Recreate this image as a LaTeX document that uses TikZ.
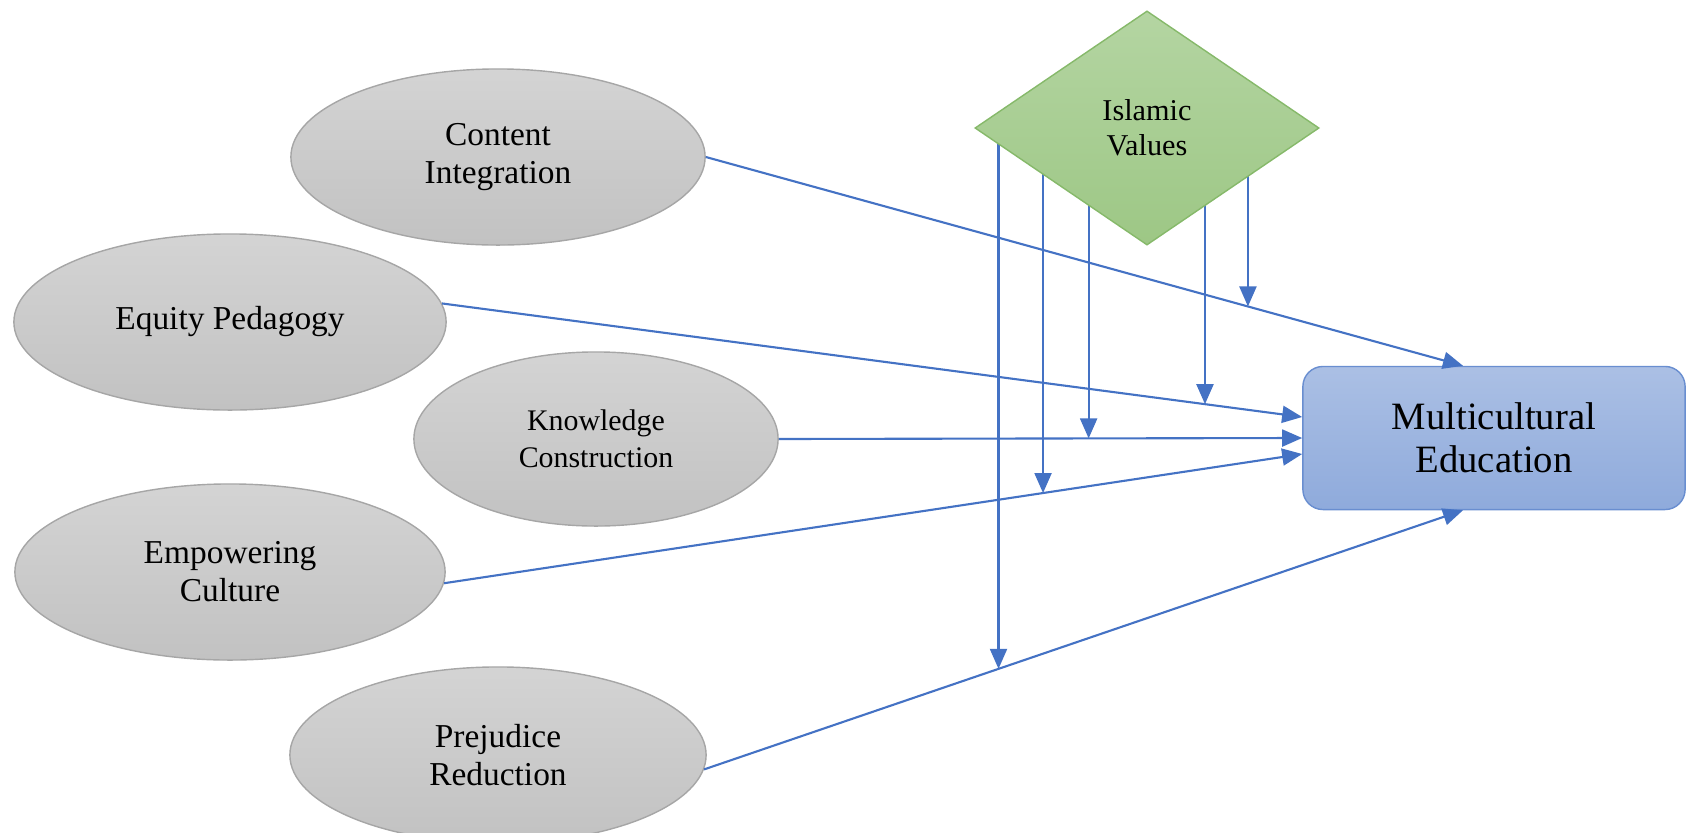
\documentclass[tikz,border=0pt]{standalone}
\usepackage{fontspec}
\setmainfont{Liberation Serif}
\usetikzlibrary{shapes.geometric,arrows.meta,calc}
\pgfdeclarelayer{background}
\pgfsetlayers{background,main}

\definecolor{linkblue}{HTML}{4472C4}
\definecolor{greentop}{HTML}{B4D5A2}
\definecolor{greenbot}{HTML}{9DC785}
\definecolor{greenline}{HTML}{86B96A}

\tikzset{
  factor/.style={ellipse, draw=black!35, top color=black!17, bottom color=black!24,
    inner sep=0pt, align=center, font=\fontsize{9.5}{10.8}\selectfont},
  moderator/.style={diamond, draw=greenline, top color=greentop, bottom color=greenbot,
    inner sep=0pt, aspect=1.47, minimum width=3.44cm, minimum height=2.34cm,
    align=center, font=\fontsize{8.6}{10}\selectfont},
  outcome/.style={rectangle, rounded corners=0.2cm, draw=linkblue!80, top color=linkblue!45, bottom color=linkblue!60,
    minimum width=3.82cm, minimum height=1.43cm, align=center, font=\fontsize{11}{12.2}\selectfont},
  link/.style={draw=linkblue, line width=0.6pt, -{Triangle[length=0.2cm,width=0.17cm]}}
}

\begin{document}
\begin{tikzpicture}[x=0.01cm, y=-0.01cm]
\useasboundingbox (0,0) rectangle (1687,833);

\node[factor, minimum width=4.14cm, minimum height=1.76cm] (ci) at (498,157) {Content\\Integration};
\node[factor, minimum width=4.32cm, minimum height=1.76cm] (ep) at (230,322) {Equity Pedagogy};
\node[factor, minimum width=3.64cm, minimum height=1.74cm, font=\fontsize{8.5}{10.4}\selectfont] (kc) at (596,439) {Knowledge\\Construction};
\node[factor, minimum width=4.30cm, minimum height=1.76cm] (ec) at (230,572) {Empowering\\Culture};
\node[factor, minimum width=4.16cm, minimum height=1.76cm] (pr) at (498,755) {Prejudice\\Reduction};

\node[moderator] (iv) at (1147,128) {Islamic\\Values};
\node[outcome] (me) at (1494,438) {Multicultural\\Education};

% direct paths
\coordinate (ci_in) at ([xshift=-0.31cm]me.north);
\coordinate (ep_in) at ([yshift=0.21cm]me.west);
\coordinate (ec_in) at ([yshift=-0.16cm]me.west);
\coordinate (pr_in) at ([xshift=-0.31cm]me.south);

\draw[link] (ci.east) -- (ci_in);
\draw[link] (ep.5) -- (ep_in);
\draw[link] (kc.east) -- (me.west);
\draw[link] (ec.-3) -- (ec_in);
\draw[link] (pr.-4) -- (pr_in);

% moderating paths
\coordinate (m1) at ($(ci.east)!0.716!(ci_in)$);
\coordinate (m2) at ($(ep.5)!0.887!(ep_in)$);
\coordinate (m3) at ($(kc.east)!0.592!(me.west)$);
\coordinate (m4) at ($(ec.-3)!0.698!(ec_in)$);
\coordinate (m5) at ($(pr.-4)!0.388!(pr_in)$);

\begin{pgfonlayer}{background}
\foreach \m in {m1,m2,m3,m4,m5}
  \draw[link] (\m |- iv.center) -- (\m);
\end{pgfonlayer}

\end{tikzpicture}
\end{document}
